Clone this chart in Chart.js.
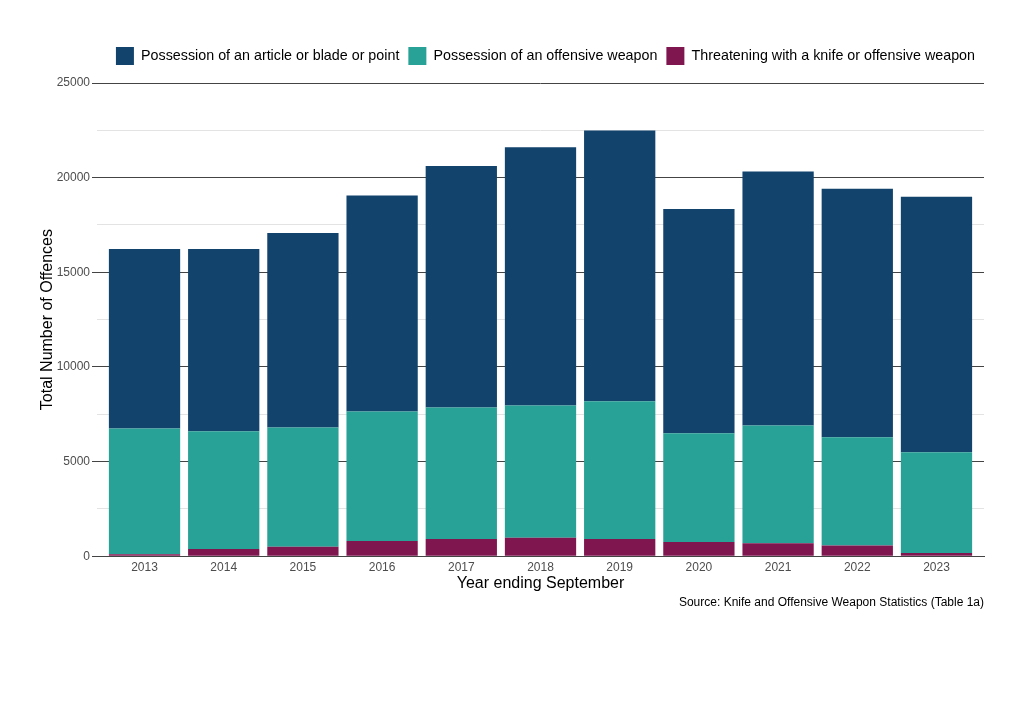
<!DOCTYPE html>
<html>
<head>
<meta charset="utf-8">
<script src="https://cdn.jsdelivr.net/npm/chart.js@4"></script>
<style>
  html, body { margin: 0; padding: 0; background: #fff; }
  #wrap { width: 1024px; height: 724px; }
</style>
</head>
<body>
<div id="wrap"><canvas id="offences"></canvas></div>
<script>
const years = [2013, 2014, 2015, 2016, 2017, 2018, 2019, 2020, 2021, 2022, 2023];

// stack tops, split into the three parts below
const threatening = [100, 385, 505, 800, 910, 980, 910, 755, 685, 560, 175];
const offensiveTop = [6750, 6600, 6800, 7650, 7860, 7960, 8180, 6490, 6910, 6280, 5490];
const articleTop = [16230, 16230, 17070, 19060, 20610, 21610, 22490, 18340, 20320, 19410, 18990];

const offensive = offensiveTop.map((v, i) => v - threatening[i]);
const article = articleTop.map((v, i) => v - offensiveTop[i]);

const yTicks = [0, 5000, 10000, 15000, 20000, 25000];

Chart.defaults.font.family = "Liberation Sans";
Chart.defaults.color = "#4d4d4d";

function points(values) {
  return values.map((v, i) => ({ x: years[i], y: v }));
}

// a bit more room between the legend and the plot
const legendGap = {
  id: "legendGap",
  beforeInit(chart) {
    const fit = chart.legend.fit;
    chart.legend.fit = function () {
      fit.call(this);
      this.height += 8;
    };
  },
};

new Chart(document.getElementById("offences"), {
  type: "bar",
  data: {
    datasets: [
      { label: "Threatening with a knife or offensive weapon", data: points(threatening), backgroundColor: "#801650" },
      { label: "Possession of an offensive weapon", data: points(offensive), backgroundColor: "#28A197" },
      { label: "Possession of an article or blade or point", data: points(article), backgroundColor: "#12436D" },
    ],
  },
  options: {
    responsive: true,
    maintainAspectRatio: false,
    animation: false,
    barPercentage: 0.9,
    categoryPercentage: 1.0,
    layout: {
      padding: { left: 38, right: 40, top: 38, bottom: 114 },
    },
    scales: {
      x: {
        type: "linear",
        stacked: true,
        offset: false,
        min: 2012.4,
        max: 2023.6,
        grid: { display: false, drawTicks: false },
        border: { display: true, color: "#444", width: 1 },
        ticks: {
          stepSize: 1,
          includeBounds: false,
          color: "#4d4d4d",
          font: { size: 12 },
          padding: 4,
          callback: (value) => (Number.isInteger(value) ? `${value}` : ""),
        },
        title: {
          display: true,
          text: "Year ending September",
          color: "#000",
          font: { size: 16, lineHeight: 1 },
          padding: { top: -3, bottom: 0 },
        },
      },
      y: {
        stacked: true,
        min: 0,
        max: 25000,
        afterFit: (axis) => {
          axis.width = 59;
        },
        border: { display: false },
        grid: {
          color: (ctx) => (yTicks.includes(ctx.tick.value) ? "#444" : "#e3e3e3"),
          tickColor: (ctx) => (yTicks.includes(ctx.tick.value) ? "#444" : "rgba(0,0,0,0)"),
          tickLength: 5,
          lineWidth: 1,
        },
        ticks: {
          stepSize: 2500,
          color: "#4d4d4d",
          font: { size: 12 },
          padding: 2,
          callback: (value) => (yTicks.includes(value) ? `${value}` : ""),
        },
        title: {
          display: true,
          text: "Total Number of Offences",
          color: "#000",
          font: { size: 16 },
          padding: { top: 0, bottom: 0 },
        },
      },
    },
    plugins: {
      legend: {
        position: "top",
        align: "end",
        reverse: true,
        labels: {
          boxWidth: 18,
          boxHeight: 18,
          padding: 9,
          color: "#000",
          font: { size: 14.3 },
        },
      },
      subtitle: {
        display: true,
        position: "bottom",
        align: "end",
        text: "Source: Knife and Offensive Weapon Statistics (Table 1a)",
        color: "#000",
        font: { size: 12, weight: "normal" },
        padding: { top: 4, bottom: 0 },
      },
      tooltip: { mode: "index", intersect: false },
    },
  },
  plugins: [legendGap],
});
</script>
</body>
</html>
